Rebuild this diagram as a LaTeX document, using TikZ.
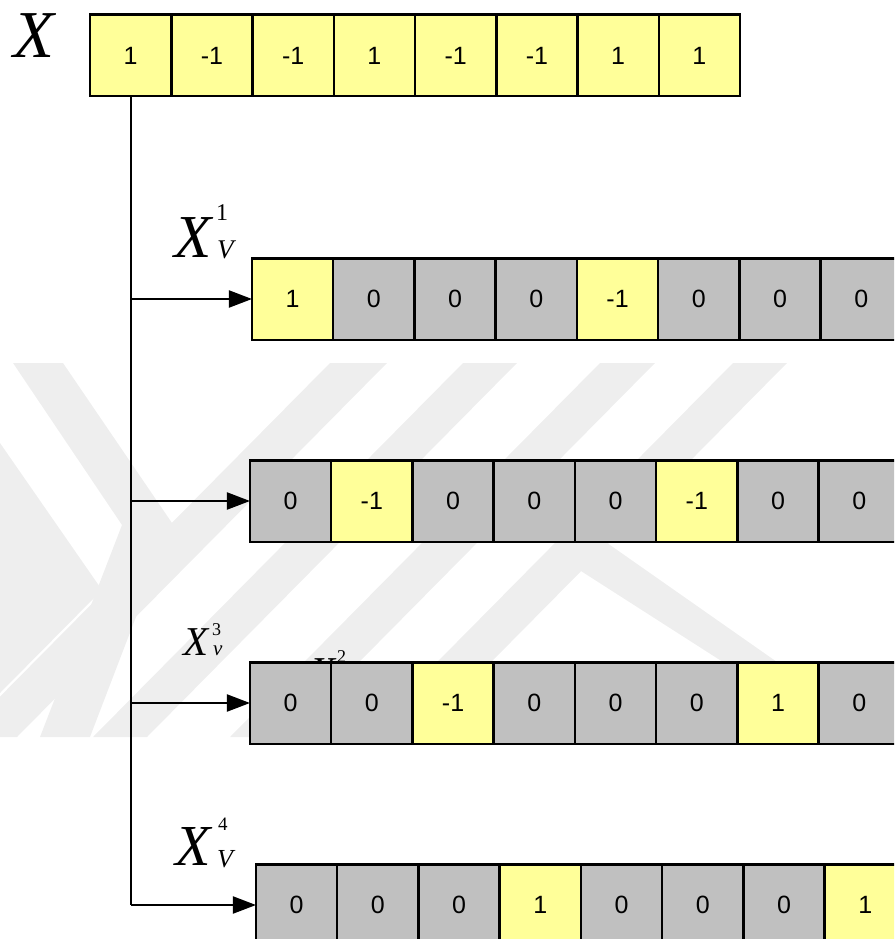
\documentclass[tikz,border=0pt]{standalone}
\usepackage{fontspec}
\setmainfont{Liberation Sans}
\newfontfamily\serifx{Liberation Serif}
\usetikzlibrary{arrows.meta}
\definecolor{cellY}{HTML}{FFFF99}
\definecolor{cellG}{HTML}{C0C0C0}
\definecolor{wm}{HTML}{EEEEEE}
\newcommand{\fsz}[1]{\fontsize{#1}{#1}\selectfont}
\tikzset{
  cell/.style={draw=black, line width=2.5pt, minimum width=81.25pt, minimum height=81.5pt,
    inner sep=0pt, outer sep=0pt, font=\fsz{25}},
  yc/.style={cell, fill=cellY},
  gc/.style={cell, fill=cellG},
  conn/.style={line width=2pt, -{Triangle[length=23pt,width=17pt]}},
  trunk/.style={line width=2pt},
  lab/.style={anchor=base west, inner sep=0pt, outer sep=0pt},
  wmark/.style={fill=wm, draw=none}
}
\begin{document}
\begin{tikzpicture}[x=1pt,y=-1pt]
\useasboundingbox (0,0) rectangle (894,939);
\clip (0,0) rectangle (894,939);
% watermark
\fill[wmark] (13,363) -- (63,363) -- (172,523) -- (90,737) -- (40,737) -- (122,525) -- cycle;
\fill[wmark] (0,443) -- (102,590) -- (0,693) -- cycle;
\fill[wmark] (330,363) -- (387,363) -- (17,737) -- (-40,737) -- cycle;
\fill[wmark] (463,363) -- (517,363) -- (147,737) -- (93,737) -- cycle;
\fill[wmark] (600,363) -- (655,363) -- (285,737) -- (230,737) -- cycle;
\fill[wmark] (733,363) -- (787,363) -- (417,737) -- (363,737) -- cycle;
\fill[wmark] (590,531) -- (884,737) -- (840,737) -- (570,564) -- cycle;
% partly hidden label behind row 3
\node[lab] (lXb) at (310,685) {\serifx\itshape\fsz{41}X};
\node[lab] (lXbsup) at (337,662) {\serifx\fsz{18}2};
\node[lab] (lXbsub) at (340,685) {\serifx\itshape\fsz{21}v};
% top row
\foreach \v/\c [count=\i from 0] in {1/yc,-1/yc,-1/yc,1/yc,-1/yc,-1/yc,1/yc,1/yc}
  \node[\c] (t\i) at ({130.625+81.25*\i},55.5) {\v};
% row 1
\foreach \v/\c [count=\i from 0] in {1/yc,0/gc,0/gc,0/gc,-1/yc,0/gc,0/gc,0/gc,0/gc}
  \node[\c] (a\i) at ({292.6+81.25*\i},299) {\v};
% row 2
\foreach \v/\c [count=\i from 0] in {0/gc,-1/yc,0/gc,0/gc,0/gc,-1/yc,0/gc,0/gc,0/gc}
  \node[\c] (b\i) at ({290.6+81.25*\i},501) {\v};
% row 3
\foreach \v/\c [count=\i from 0] in {0/gc,0/gc,-1/yc,0/gc,0/gc,0/gc,1/yc,0/gc,0/gc}
  \node[\c] (c\i) at ({290.6+81.25*\i},703) {\v};
% row 4
\foreach \v/\c [count=\i from 0] in {0/gc,0/gc,0/gc,1/yc,0/gc,0/gc,0/gc,1/yc,0/gc}
  \node[\c] (d\i) at ({296.6+81.25*\i},905) {\v};
% connectors
\coordinate (j1) at (t0.south |- a0.west);
\coordinate (j2) at (t0.south |- b0.west);
\coordinate (j3) at (t0.south |- c0.west);
\coordinate (j4) at (t0.south |- d0.west);
\draw[trunk] (t0.south) -- (j4);
\draw[conn] (j1) -- (a0.west);
\draw[conn] (j2) -- (b0.west);
\draw[conn] (j3) -- (c0.west);
\draw[conn] (j4) -- (d0.west);
% labels
\node[lab] (lX) at (13,58) {\serifx\itshape\fsz{67}X};
\node[lab] (lX1) at (174,257) {\serifx\itshape\fsz{61}X};
\node[lab] (lX1sup) at (216,220) {\serifx\fsz{24}1};
\node[lab] (lX1sub) at (217,258) {\serifx\itshape\fsz{27}V};
\node[lab] (lX3) at (183,655) {\serifx\itshape\fsz{41}X};
\node[lab] (lX3sup) at (212,635) {\serifx\fsz{18}3};
\node[lab] (lX3sub) at (213,655) {\serifx\itshape\fsz{21}v};
\node[lab] (lX4) at (175,865) {\serifx\itshape\fsz{58}X};
\node[lab] (lX4sup) at (218,830) {\serifx\fsz{19}4};
\node[lab] (lX4sub) at (217,867) {\serifx\itshape\fsz{26}V};
\end{tikzpicture}
\end{document}
